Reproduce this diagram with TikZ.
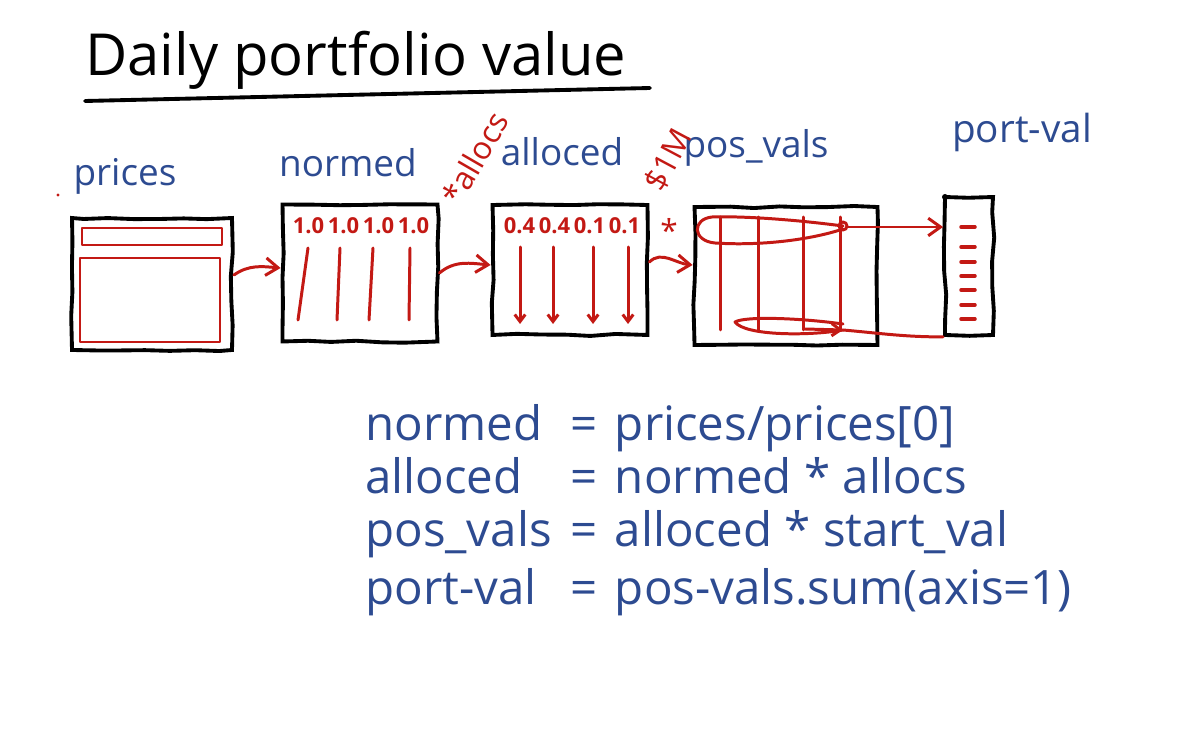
\documentclass[tikz,border=0pt]{standalone}
\usepackage{fontspec}
\setmainfont{Open Sans}
\usetikzlibrary{arrows.meta,decorations.pathmorphing}
\definecolor{inkblue}{RGB}{45,75,145}
\definecolor{inkred}{RGB}{195,25,20}
\begin{document}
\begin{tikzpicture}[x=0.02cm,y=-0.02cm,>={Straight Barb[length=7pt,width=10pt]},
  box/.style={draw,line width=2.2pt,inner sep=0pt,decorate,
    decoration={random steps,segment length=14pt,amplitude=0.7pt}},
  redpen/.style={draw=inkred,line width=1.7pt,line cap=round,line join=round},
  lbl/.style={text=inkblue,font=\fontsize{21}{24}\selectfont},
  redlbl/.style={text=inkred,font=\fontsize{18}{21}\selectfont},
  nums/.style={text=inkred,font=\fontsize{12.5}{14}\selectfont\bfseries},
  eq/.style={text=inkblue,font=\fontsize{27}{30}\selectfont,anchor=base west,inner sep=0pt}]
\useasboundingbox[fill=white] (0,0) rectangle (1179,749);

% title
\node[font=\fontsize{33}{36}\selectfont,anchor=base west,inner sep=0pt] (title) at (85,76) {Daily portfolio value};
\draw[line width=2.2pt,line cap=round] (85,101) -- (650,88);

% the five tables
\node[box,minimum width=3.2cm,minimum height=2.64cm] (prices) at (152,284) {};
\node[box,minimum width=3.1cm,minimum height=2.74cm] (normed) at (360,273) {};
\node[box,minimum width=3.1cm,minimum height=2.6cm] (alloced) at (570,270) {};
\node[box,minimum width=3.66cm,minimum height=2.76cm] (posvals) at (786,276) {};
\node[box,minimum width=0.96cm,minimum height=2.76cm] (portval) at (969,266) {};
\fill (945,197) circle (3);

% names
\fill[inkred] (58,195) circle (1.6);
\node[lbl] (pricesL) at (125,176) {prices};
\node[lbl] (normedL) at (348,163) {normed};
\node[lbl] (allocedL) at (562,152) {alloced};
\node[lbl] (posvalsL) at (756,148) {pos\_vals};
\node[font=\fontsize{22}{25}\selectfont,text=inkblue] (portvalL) at (1022,132) {port-val};

% factors
\node[redlbl,rotate=60,inner sep=1pt] (allocs) at (475,158) {*allocs};
\node[redlbl,rotate=62,inner sep=1pt] (million) at (668,160) {\$1M};
\node[redlbl] (times) at (669,230) {*};

% prices
\draw[redpen] (82,228) rectangle (222,245);
\draw[redpen] (80,258) rectangle (220,342);

% normed
\node[nums] (ones) at (361,226) {1.0\,1.0\,1.0\,1.0};
\foreach \xa/\xb in {308/298,340/337,373/369,410/409}
  \draw[redpen] (\xa,248) -- (\xb,320);

% alloced
\node[nums] (weights) at (572,226) {0.4\,0.4\,0.1\,0.1};
\foreach \x in {520,553,593,628}
  \draw[redpen,-{Straight Barb[length=4pt,width=6pt]}] (\x,247) -- (\x,324);

% pos_vals
\foreach \x in {720,758,803,840}
  \draw[redpen] (\x,217) -- (\x,330);
\draw[redpen] (843,226) .. controls (790,219) and (740,216) .. (712,217)
  .. controls (692,219) and (692,241) .. (715,243)
  .. controls (760,246) and (810,240) .. (843,229);
\draw[redpen] (843,226) circle (4);
\draw[redpen] (843,324) .. controls (800,318) and (745,316) .. (735,322)
  .. controls (745,336) and (810,336) .. (843,330);
\coordinate (toprow) at (847,227);
\coordinate (botrow) at (843,330);
\draw[redpen,-{Straight Barb[length=5pt,width=7pt]}] (805,329) -- (botrow);

% port_val
\foreach \y in {227,247,262,276,290,305,319}
  \draw[redpen,line width=2pt] (961,\y) -- (975,\y);

% arrows
\draw[redpen,->] ([yshift=0.18cm]prices.east) to[out=35,in=175] ([yshift=0.1cm]normed.west);
\draw[redpen,->] (normed.east) to[out=40,in=175] ([yshift=0.1cm]alloced.west);
\draw[redpen,->] ([yshift=0.16cm]alloced.east) to[out=45,in=175] ([yshift=0.22cm]posvals.west);
\draw[redpen,->] (toprow) -- (toprow -| portval.west);
\draw[redpen] (botrow) to[out=-5,in=180] (portval.south west);

% formulas
\node[eq] (eqA) at (365,440) {\makebox[4.1cm][l]{normed}=\hspace{0.35cm}prices/prices[0]};
\node[eq] (eqB) at (365,493) {\makebox[4.1cm][l]{alloced}=\hspace{0.35cm}normed * allocs};
\node[eq] (eqC) at (365,546) {\makebox[4.1cm][l]{pos\_vals}=\hspace{0.35cm}alloced * start\_val};
\node[eq] (eqD) at (365,604) {\makebox[4.1cm][l]{port-val}=\hspace{0.35cm}pos-vals.sum(axis=1)};
\end{tikzpicture}
\end{document}
